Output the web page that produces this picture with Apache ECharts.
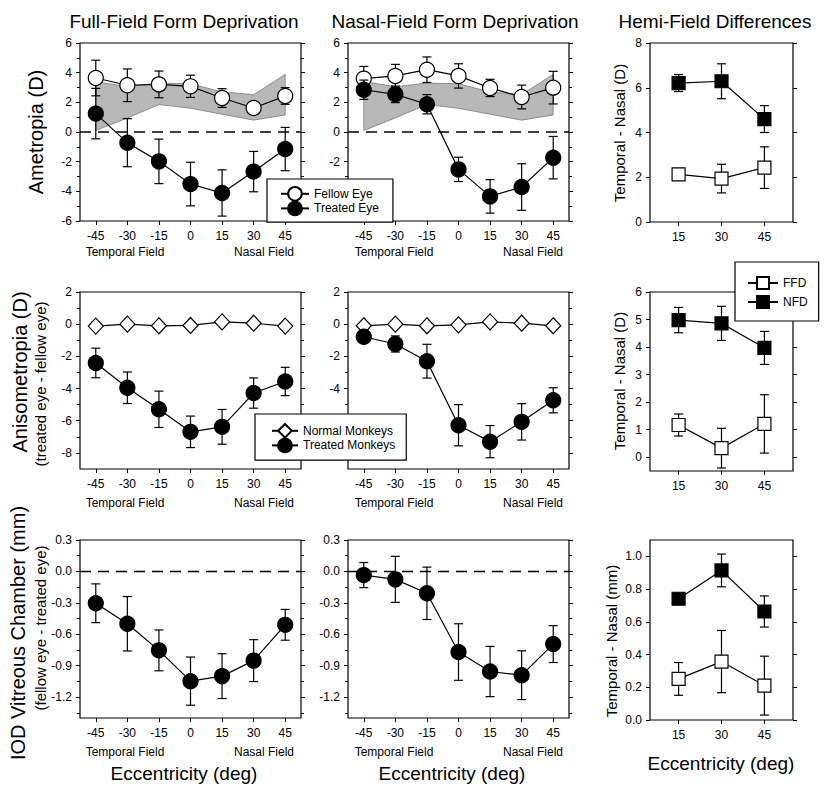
<!DOCTYPE html>
<html><head><meta charset="utf-8">
<script src="https://cdn.jsdelivr.net/npm/echarts@6/dist/echarts.min.js"></script>
<style>html,body{margin:0;padding:0;background:#fff}#c{width:828px;height:794px}</style>
</head><body><div id="c"></div>
<script>
// ---------- data ----------
const eccentricity = [-45, -30, -15, 0, 15, 30, 45];
const hemiEccentricity = [15, 30, 45];

// Row 1: Ametropia (D)
const ffdFellow = [3.64, 3.15, 3.21, 3.08, 2.29, 1.62, 2.43];
const ffdFellowErr = [1.2, 1.1, 0.9, 0.75, 0.63, 0.3, 0.56];
const ffdTreated = [1.24, -0.72, -1.98, -3.51, -4.11, -2.67, -1.15];
const ffdTreatedErr = [1.7, 1.62, 1.5, 1.47, 1.56, 1.36, 1.46];
const nfdFellow = [3.6, 3.78, 4.2, 3.78, 2.97, 2.36, 2.99];
const nfdFellowErr = [0.82, 0.78, 0.86, 0.82, 0.58, 0.8, 1.1];
const nfdTreated = [2.85, 2.54, 1.87, -2.52, -4.34, -3.71, -1.73];
const nfdTreatedErr = [0.65, 0.56, 0.65, 0.82, 1.13, 1.57, 1.43];
const normalLow = [0.1, 0.95, 1.85, 1.6, 1.2, 0.8, 1.15];
const normalHigh = [3.4, 3.05, 3.3, 3.25, 2.7, 2.52, 3.88];
const hemiAmetropiaFFD = [2.13, 1.94, 2.43];
const hemiAmetropiaFFDErr = [0.2, 0.64, 0.93];
const hemiAmetropiaNFD = [6.21, 6.29, 4.6];
const hemiAmetropiaNFDErr = [0.38, 0.78, 0.6];

// Row 2: Anisometropia (D)
const normalAnisoA = [-0.12, 0, -0.1, -0.08, 0.14, 0.06, -0.12];
const ffdAniso = [-2.41, -3.95, -5.29, -6.69, -6.38, -4.28, -3.56];
const ffdAnisoErr = [0.92, 0.98, 1.13, 0.98, 1.08, 0.94, 0.88];
const normalAnisoB = [-0.1, 0, -0.1, -0.04, 0.14, 0.06, -0.1];
const nfdAniso = [-0.78, -1.23, -2.3, -6.28, -7.3, -6.07, -4.73];
const nfdAnisoErr = [0.3, 0.5, 1.05, 1.28, 1.0, 1.13, 0.78];
const hemiAnisoFFD = [1.17, 0.33, 1.21];
const hemiAnisoFFDErr = [0.4, 0.72, 1.06];
const hemiAnisoNFD = [4.98, 4.86, 3.97];
const hemiAnisoNFDErr = [0.46, 0.62, 0.6];

// Row 3: IOD vitreous chamber (mm)
const ffdVC = [-0.304, -0.5, -0.754, -1.048, -1.0, -0.852, -0.51];
const ffdVCErr = [0.185, 0.26, 0.195, 0.23, 0.214, 0.2, 0.147];
const nfdVC = [-0.035, -0.076, -0.209, -0.77, -0.956, -0.991, -0.694];
const nfdVCErr = [0.12, 0.22, 0.25, 0.27, 0.24, 0.233, 0.176];
const hemiVCFFD = [0.251, 0.357, 0.21];
const hemiVCFFDErr = [0.1, 0.19, 0.18];
const hemiVCNFD = [0.741, 0.914, 0.663];
const hemiVCNFDErr = [0.03, 0.1, 0.095];

// tick values (labels hidden behind the legends in the middle column are left out)
const ametropiaTicks = [-6, -4, -2, 0, 2, 4, 6];
const ametropiaLabelsMid = [-2, 0, 2, 4, 6];
const ametropiaMinor = [-5, -3, -1, 1, 3, 5];
const hemiAmetropiaTicks = [0, 2, 4, 6, 8];
const anisoTicks = [-8, -6, -4, -2, 0, 2];
const anisoLabelsMid = [-4, -2, 0, 2];
const anisoMinor = [-7, -5, -3, -1, 1];
const hemiAnisoTicks = [0, 1, 2, 3, 4, 5, 6];
const vcTicks = [-1.2, -0.9, -0.6, -0.3, 0, 0.3];
const vcMinor = [-1.35, -1.05, -0.75, -0.45, -0.15, 0.15];
const hemiVCTicks = [0, 0.2, 0.4, 0.6, 0.8, 1.0];

// ---------- builders ----------
const FONT = '"Liberation Sans", Arial, Helvetica, sans-serif';
const grids = [], xAxes = [], yAxes = [], series = [];

function addPanel(p) {
  const gi = grids.length;
  grids.push({left: p.left, top: p.top, width: p.width, height: p.height, show: true,
    borderColor: '#000', borderWidth: 1.2, backgroundColor: 'transparent'});
  const xi = xAxes.length;
  xAxes.push({gridIndex: gi, type: 'value', min: p.xmin, max: p.xmax, position: 'bottom',
    axisLine: {show: false, onZero: false}, splitLine: {show: false},
    axisTick: {show: true, inside: false, length: 4, customValues: p.xs, lineStyle: {color: '#000', width: 1}},
    axisLabel: {show: true, customValues: p.xs, margin: 9, color: '#000', fontSize: 12, fontFamily: FONT,
      formatter: v => String(v)}});
  const yi = yAxes.length;
  const fmt = p.yfmt || (v => String(v));
  ['left', 'right'].forEach(pos => {
    yAxes.push({gridIndex: gi, type: 'value', min: p.ymin, max: p.ymax, position: pos,
      axisLine: {show: false, onZero: false}, splitLine: {show: false},
      axisTick: {show: true, inside: false, length: 4, customValues: p.yMajor, lineStyle: {color: '#000', width: 1}},
      axisLabel: {show: pos === 'left', customValues: p.yLabels || p.yMajor, margin: 8, color: '#000', fontSize: 12,
        fontFamily: FONT, formatter: fmt}});
    if (p.yMinor) {
      yAxes.push({gridIndex: gi, type: 'value', min: p.ymin, max: p.ymax, position: pos,
        axisLine: {show: false, onZero: false}, splitLine: {show: false},
        axisTick: {show: true, inside: false, length: 3, customValues: p.yMinor, lineStyle: {color: '#000', width: 1}},
        axisLabel: {show: false}});
    }
  });
  return {xi, yi, xmin: p.xmin, xmax: p.xmax};
}

function addErrors(ax, xs, ys, errs, z) {
  series.push({type: 'custom', xAxisIndex: ax.xi, yAxisIndex: ax.yi, z: z, silent: true, clip: false,
    data: xs.map((x, i) => [x, ys[i], errs[i]]), encode: {x: 0, y: 1},
    renderItem: (params, api) => {
      const x = api.value(0), y = api.value(1), e = api.value(2);
      const t = api.coord([x, y + e]), b = api.coord([x, y - e]);
      const hw = 4.5, st = {stroke: '#000', lineWidth: 1.2};
      return {type: 'group', children: [
        {type: 'line', shape: {x1: t[0], y1: t[1], x2: b[0], y2: b[1]}, style: st},
        {type: 'line', shape: {x1: t[0] - hw, y1: t[1], x2: t[0] + hw, y2: t[1]}, style: st},
        {type: 'line', shape: {x1: b[0] - hw, y1: b[1], x2: b[0] + hw, y2: b[1]}, style: st}
      ]};
    }});
}

function addLine(ax, name, xs, ys, symbol, size, fill, z) {
  series.push({type: 'line', name: name, xAxisIndex: ax.xi, yAxisIndex: ax.yi, z: z,
    data: xs.map((x, i) => [x, ys[i]]), symbol: symbol, symbolSize: size, showSymbol: true,
    itemStyle: {color: fill, borderColor: '#000', borderWidth: 1.2},
    lineStyle: {color: '#000', width: 1.2}, emphasis: {disabled: true}});
}

function addSeriesWithErr(ax, name, xs, ys, errs, symbol, size, fill, z) {
  addErrors(ax, xs, ys, errs, z);
  addLine(ax, name, xs, ys, symbol, size, fill, z + 0.5);
}

function addZeroLine(ax) {
  series.push({type: 'line', xAxisIndex: ax.xi, yAxisIndex: ax.yi, z: 1.5, silent: true,
    data: [[ax.xmin, 0], [ax.xmax, 0]], symbol: 'none',
    lineStyle: {color: '#000', width: 1.5, type: [11, 7]}});
}

function addBand(ax, xs, low, high) {
  series.push({type: 'custom', xAxisIndex: ax.xi, yAxisIndex: ax.yi, z: 1, silent: true, clip: false,
    data: [[xs[0], low[0]]], encode: {x: 0, y: 1},
    renderItem: (params, api) => {
      const pts = [];
      xs.forEach((x, i) => pts.push(api.coord([x, high[i]])));
      for (let i = xs.length - 1; i >= 0; i--) pts.push(api.coord([xs[i], low[i]]));
      return {type: 'polygon', shape: {points: pts}, style: {fill: '#b8b8b8', stroke: '#7a7a7a', lineWidth: 0.8}};
    }});
}

// ---------- layout ----------
const colL = [80, 348], colW = 221;
const c3L = 650, c3W = 143;
const rowT = [43, 292, 540], rowH = 178;
const eccMin = -52.5, eccMax = 52.5, hemiMin = 5, hemiMax = 55;

// Row 1
let a = addPanel({left: colL[0], top: rowT[0], width: colW, height: rowH, xmin: eccMin, xmax: eccMax, xs: eccentricity,
  ymin: -6, ymax: 6, yMajor: ametropiaTicks, yMinor: ametropiaMinor});
addBand(a, eccentricity, normalLow, normalHigh);
addZeroLine(a);
addSeriesWithErr(a, 'Fellow Eye', eccentricity, ffdFellow, ffdFellowErr, 'circle', 15, '#fff', 3);
addSeriesWithErr(a, 'Treated Eye', eccentricity, ffdTreated, ffdTreatedErr, 'circle', 15, '#000', 4);

a = addPanel({left: colL[1], top: rowT[0], width: colW, height: rowH, xmin: eccMin, xmax: eccMax, xs: eccentricity,
  ymin: -6, ymax: 6, yMajor: ametropiaTicks, yLabels: ametropiaLabelsMid, yMinor: ametropiaMinor});
addBand(a, eccentricity, normalLow, normalHigh);
addZeroLine(a);
addSeriesWithErr(a, 'Fellow Eye', eccentricity, nfdFellow, nfdFellowErr, 'circle', 15, '#fff', 3);
addSeriesWithErr(a, 'Treated Eye', eccentricity, nfdTreated, nfdTreatedErr, 'circle', 15, '#000', 4);

a = addPanel({left: c3L, top: rowT[0], width: c3W, height: rowH + 1, xmin: hemiMin, xmax: hemiMax, xs: hemiEccentricity,
  ymin: 0, ymax: 8, yMajor: hemiAmetropiaTicks});
addSeriesWithErr(a, 'FFD', hemiEccentricity, hemiAmetropiaFFD, hemiAmetropiaFFDErr, 'rect', 13, '#fff', 3);
addSeriesWithErr(a, 'NFD', hemiEccentricity, hemiAmetropiaNFD, hemiAmetropiaNFDErr, 'rect', 13, '#000', 4);

// Row 2
a = addPanel({left: colL[0], top: rowT[1], width: colW, height: rowH - 1, xmin: eccMin, xmax: eccMax, xs: eccentricity,
  ymin: -9, ymax: 2, yMajor: anisoTicks, yMinor: anisoMinor});
addLine(a, 'Normal Monkeys', eccentricity, normalAnisoA, 'diamond', [15, 16], '#fff', 3);
addSeriesWithErr(a, 'Treated Monkeys', eccentricity, ffdAniso, ffdAnisoErr, 'circle', 15, '#000', 4);

a = addPanel({left: colL[1], top: rowT[1], width: colW, height: rowH - 1, xmin: eccMin, xmax: eccMax, xs: eccentricity,
  ymin: -9, ymax: 2, yMajor: anisoTicks, yLabels: anisoLabelsMid, yMinor: anisoMinor});
addLine(a, 'Normal Monkeys', eccentricity, normalAnisoB, 'diamond', [15, 16], '#fff', 3);
addSeriesWithErr(a, 'Treated Monkeys', eccentricity, nfdAniso, nfdAnisoErr, 'circle', 15, '#000', 4);

a = addPanel({left: c3L, top: rowT[1], width: c3W, height: rowH + 1, xmin: hemiMin, xmax: hemiMax, xs: hemiEccentricity,
  ymin: -0.5, ymax: 6, yMajor: hemiAnisoTicks});
addSeriesWithErr(a, 'FFD', hemiEccentricity, hemiAnisoFFD, hemiAnisoFFDErr, 'rect', 13, '#fff', 3);
addSeriesWithErr(a, 'NFD', hemiEccentricity, hemiAnisoNFD, hemiAnisoNFDErr, 'rect', 13, '#000', 4);

// Row 3
const f1 = v => v.toFixed(1);
a = addPanel({left: colL[0], top: rowT[2], width: colW, height: rowH, xmin: eccMin, xmax: eccMax, xs: eccentricity,
  ymin: -1.4, ymax: 0.3, yMajor: vcTicks, yMinor: vcMinor, yfmt: f1});
addZeroLine(a);
addSeriesWithErr(a, 'FFD VC', eccentricity, ffdVC, ffdVCErr, 'circle', 15, '#000', 4);

a = addPanel({left: colL[1], top: rowT[2], width: colW, height: rowH, xmin: eccMin, xmax: eccMax, xs: eccentricity,
  ymin: -1.4, ymax: 0.3, yMajor: vcTicks, yMinor: vcMinor, yfmt: f1});
addZeroLine(a);
addSeriesWithErr(a, 'NFD VC', eccentricity, nfdVC, nfdVCErr, 'circle', 15, '#000', 4);

a = addPanel({left: c3L, top: rowT[2], width: c3W, height: rowH + 2, xmin: hemiMin, xmax: hemiMax, xs: hemiEccentricity,
  ymin: 0, ymax: 1.1, yMajor: hemiVCTicks, yfmt: f1});
addSeriesWithErr(a, 'FFD ', hemiEccentricity, hemiVCFFD, hemiVCFFDErr, 'rect', 13, '#fff', 3);
addSeriesWithErr(a, 'NFD ', hemiEccentricity, hemiVCNFD, hemiVCNFDErr, 'rect', 13, '#000', 4);

// ---------- texts ----------
function txt(text, x, y, size, rot) {
  return {type: 'text', x: x, y: y, rotation: rot ? Math.PI / 2 : 0, silent: true,
    style: {text: text, fontSize: size, fontFamily: FONT, fill: '#000',
      align: 'center', verticalAlign: 'middle', textAlign: 'center', textVerticalAlign: 'middle'}};
}
const graphics = [
  txt('Full-Field Form Deprivation', 184, 21, 19),
  txt('Nasal-Field Form Deprivation', 455, 21, 19),
  txt('Hemi-Field Differences', 715, 21, 19),
  txt('Ametropia (D)', 36, 132, 20, true),
  txt('Anisometropia (D)', 20, 372, 20, true),
  txt('(treated eye - fellow eye)', 40, 384, 15, true),
  txt('IOD Vitreous Chamber (mm)', 18, 633, 20, true),
  txt('(fellow eye - treated eye)', 40, 628, 15, true),
  txt('Temporal - Nasal (D)', 619, 133, 15, true),
  txt('Temporal - Nasal (D)', 619, 381, 15, true),
  txt('Temporal - Nasal (mm)', 611, 641, 15, true),
  txt('Eccentricity (deg)', 184, 773, 19),
  txt('Eccentricity (deg)', 452, 773, 19),
  txt('Eccentricity (deg)', 721, 763, 19)
];
[252, 503, 752].forEach(y => {
  graphics.push(txt('Temporal Field', 125, y, 12));
  graphics.push(txt('Nasal Field', 264, y, 12));
  graphics.push(txt('Temporal Field', 394, y, 12));
  graphics.push(txt('Nasal Field', 533, y, 12));
});

// ---------- legends ----------
const legendBase = {orient: 'vertical', borderColor: '#000', borderWidth: 1.2, backgroundColor: '#fff',
  selectedMode: false, z: 20, textStyle: {fontSize: 12, color: '#000', fontFamily: FONT}};
const legends = [
  Object.assign({}, legendBase, {left: 267, top: 179, padding: [7, 14, 6, 13], itemWidth: 28, itemHeight: 17, itemGap: -1,
    data: ['Fellow Eye', 'Treated Eye']}),
  Object.assign({}, legendBase, {left: 255, top: 414, padding: [9, 11, 7, 16], itemWidth: 26, itemHeight: 17, itemGap: -1,
    data: ['Normal Monkeys', 'Treated Monkeys']}),
  Object.assign({}, legendBase, {left: 735, top: 262, padding: [14, 11, 12, 12], itemWidth: 30, itemHeight: 15, itemGap: 5,
    data: ['FFD', 'NFD']})
];

const chart = echarts.init(document.getElementById('c'), null, {renderer: 'svg'});
chart.setOption({
  animation: false,
  backgroundColor: '#fff',
  grid: grids, xAxis: xAxes, yAxis: yAxes, series: series,
  legend: legends,
  graphic: {elements: graphics}
});
</script>
</body></html>
